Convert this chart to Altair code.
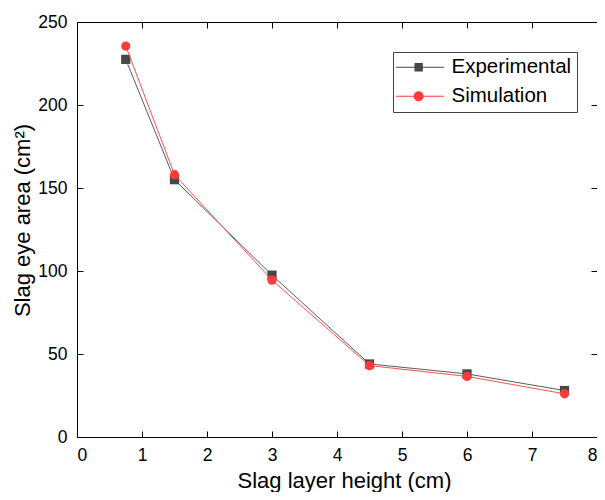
import altair as alt
import pandas as pd

x_vals = [0.75, 1.5, 3, 4.5, 6, 7.5]
exp_vals = [227.5, 155, 97.5, 44, 38, 28]
sim_vals = [235.5, 158, 94.5, 43, 36.5, 26]
series_names = ["Experimental", "Simulation"]
x_ticks = [0, 1, 2, 3, 4, 5, 6, 7, 8]
y_ticks = [0, 50, 100, 150, 200, 250]

rows = []
for name, vals in zip(series_names, [exp_vals, sim_vals]):
    for xv, yv in zip(x_vals, vals):
        rows.append({"x": xv, "y": yv, "series": name})
df = pd.DataFrame(rows)

FONT = "Liberation Sans"
marker_colors = ["#474747", "#ff3b3b"]
line_colors = ["#5c5c5c", "#ff5050"]
marker_shapes = ["square", "circle"]

xscale = alt.Scale(domain=[0, 8], nice=False, zero=False)
yscale = alt.Scale(domain=[0, 250], nice=False, zero=False)
inward = alt.ExprRef(expr="-6")

base = alt.Chart(df)

x_bottom = alt.Axis(orient="bottom", values=x_ticks, title="Slag layer height (cm)",
                    tickSize=inward, labelPadding=15, labelFontSize=17.5,
                    titleFontSize=22, titleFontWeight="normal", titleX=267, titleY=50,
                    titleBaseline="alphabetic", grid=False)
y_left = alt.Axis(orient="left", values=y_ticks, title="Slag eye area (cm²)",
                  tickSize=inward, labelPadding=16, labelFontSize=17.5,
                  titleFontSize=22, titleFontWeight="normal", titleX=-48, titleY=198,
                  titleBaseline="alphabetic", grid=False)
x_top = alt.Axis(orient="top", values=x_ticks, title=None, labels=False,
                 tickSize=inward, grid=False)
y_right = alt.Axis(orient="right", values=y_ticks, title=None, labels=False,
                   tickSize=inward, grid=False)

layers = []
for i, name in enumerate(series_names):
    sub = base.transform_filter(alt.datum.series == name)
    line = sub.mark_line(strokeWidth=1, color=line_colors[i]).encode(
        x=alt.X("x:Q", scale=xscale, axis=x_bottom if i == 0 else None),
        y=alt.Y("y:Q", scale=yscale, axis=y_left if i == 0 else None),
        order="x:Q",
    )
    pts = sub.mark_point(
        filled=True, size=85, opacity=1, shape=marker_shapes[i], color=marker_colors[i]
    ).encode(
        x=alt.X("x:Q", scale=xscale, axis=x_top if i == 0 else None),
        y=alt.Y("y:Q", scale=yscale, axis=y_right if i == 0 else None),
    )
    layers.append(line)
    layers.append(pts)

# invisible layer that only carries the legend (line + marker symbols)
legend_paths = [
    "M-1.23,-0.045H3.57V0.045H-1.23ZM0.62,-0.42H1.46V0.42H0.62Z",
    "M-1.23,-0.045H3.57V0.045H-1.23ZM1.54,0A0.5,0.5,0,1,1,0.54,0A0.5,0.5,0,1,1,1.54,0Z",
]
leg = alt.Legend(orient="none", legendX=316, legendY=30, title=None, strokeColor="#444",
                 fillColor="white", padding=5, symbolSize=400, symbolStrokeWidth=0,
                 symbolOpacity=1, labelFont=FONT, labelFontSize=20.5, labelOffset=33,
                 rowPadding=8, labelColor="black")

legend_layer = base.mark_point(filled=True, opacity=0, size=85).encode(
    x=alt.X("x:Q", scale=xscale, axis=None),
    y=alt.Y("y:Q", scale=yscale, axis=None),
    color=alt.Color("series:N", scale=alt.Scale(domain=series_names, range=marker_colors), legend=leg),
    shape=alt.Shape("series:N", scale=alt.Scale(domain=series_names, range=legend_paths), legend=leg),
)
layers.append(legend_layer)

chart = alt.layer(*layers).resolve_axis(
    x="independent", y="independent"
).properties(
    width=520, height=415,
    autosize=alt.AutoSizeParams(type="none"),
    padding={"left": 69, "top": 14, "right": 0, "bottom": 55},
).configure_view(strokeWidth=0).configure_axis(
    labelFont=FONT, titleFont=FONT, labelColor="black", titleColor="black",
    domainColor="black", tickColor="black", domainWidth=1, tickWidth=1,
)

chart.save("out.html", embed_options={"renderer": "svg", "actions": False})
